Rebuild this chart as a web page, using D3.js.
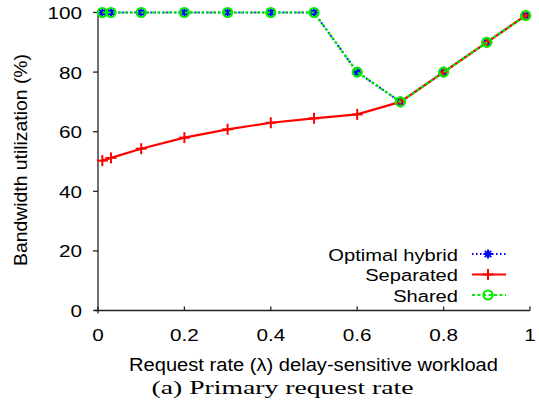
<!DOCTYPE html>
<html><head><meta charset="utf-8">
<script src="https://cdn.jsdelivr.net/npm/d3@7"></script>
<style>body{margin:0;background:#fff}svg{display:block}</style>
</head><body>
<svg id="c" width="539" height="414"></svg>
<script>
const xVals = [0.01, 0.03, 0.1, 0.2, 0.3, 0.4, 0.5, 0.6, 0.7, 0.8, 0.9, 0.99];
const optimalHybrid = [100, 100, 100, 100, 100, 100, 100, 80, 70, 80, 90, 99];
const separated = [50.3, 51.2, 54.3, 58, 60.8, 63, 64.5, 65.8, 70, 80, 90, 99];
const shared = [100, 100, 100, 100, 100, 100, 100, 80, 70, 80, 90, 99];
const xTicks = [0, 0.2, 0.4, 0.6, 0.8, 1];
const yTicks = [0, 20, 40, 60, 80, 100];

const svg = d3.select("#c");
const sans = "'Liberation Sans', Arial, sans-serif";
const SX = 1.22;
const x = d3.scaleLinear().domain([0, 1]).range([98, 530]);
const y = d3.scaleLinear().domain([0, 100]).range([310.5, 12.5]);

function txt(px, py, s, anchor, size, fam) {
  return svg.append("text").attr("transform", `translate(${px},${py}) scale(${SX},1)`)
    .attr("text-anchor", anchor).attr("font-family", fam || sans).attr("font-size", size).attr("fill", "#000").text(s);
}

// axes
const ax = svg.append("g").attr("stroke", "#222").attr("stroke-width", 1.3);
ax.append("line").attr("x1", x(0)).attr("x2", x(0)).attr("y1", y(100)).attr("y2", y(0) + 3);
ax.append("line").attr("x1", x(0) - 3).attr("x2", x(1)).attr("y1", y(0)).attr("y2", y(0));
yTicks.forEach(t => ax.append("line").attr("x1", x(0) - 5).attr("x2", x(0)).attr("y1", y(t)).attr("y2", y(t)));
xTicks.forEach(t => ax.append("line").attr("x1", x(t)).attr("x2", x(t)).attr("y1", y(0)).attr("y2", y(0) - 4));

yTicks.forEach(t => txt(82, y(t) + 6.5, t, "end", 17));
xTicks.forEach(t => txt(x(t), 341, t, "middle", 17));

svg.append("text").attr("x", 313.5).attr("y", 371).attr("text-anchor", "middle")
  .attr("font-family", sans).attr("font-size", 17.5)
  .attr("textLength", 369).attr("lengthAdjust", "spacingAndGlyphs")
  .text("Request rate (\u03bb) delay-sensitive workload");
svg.append("text").attr("transform", `translate(27,160) scale(1.15,1) rotate(-90)`).attr("text-anchor", "middle")
  .attr("font-family", sans).attr("font-size", 16.5)
  .attr("textLength", 212).attr("lengthAdjust", "spacingAndGlyphs").text("Bandwidth utilization (%)");
svg.append("text").attr("x", 282.5).attr("y", 394).attr("text-anchor", "middle")
  .attr("font-family", "'Liberation Serif', 'DejaVu Serif', serif").attr("font-size", 18)
  .attr("textLength", 262).attr("lengthAdjust", "spacingAndGlyphs").text("(a) Primary request rate");

const line = d3.line().x((d, i) => x(xVals[i])).y(d => y(d));

function star(g, cx, cy, c) {
  const r = 4.5;
  [[-r,0,r,0],[0,-r,0,r],[-r*.7,-r*.7,r*.7,r*.7],[-r*.7,r*.7,r*.7,-r*.7]].forEach(s =>
    g.append("line").attr("x1", cx+s[0]).attr("y1", cy+s[1]).attr("x2", cx+s[2]).attr("y2", cy+s[3])
     .attr("stroke", c).attr("stroke-width", 2));
}
function plus(g, cx, cy, c) {
  const r = 5.5;
  g.append("line").attr("x1", cx-r).attr("x2", cx+r).attr("y1", cy).attr("y2", cy).attr("stroke", c).attr("stroke-width", 2);
  g.append("line").attr("x1", cx).attr("x2", cx).attr("y1", cy-r).attr("y2", cy+r).attr("stroke", c).attr("stroke-width", 2);
}
function circ(g, cx, cy, c) {
  g.append("circle").attr("cx", cx).attr("cy", cy).attr("r", 4.5).attr("fill", "none").attr("stroke", c).attr("stroke-width", 2.2);
}

const series = [
  {name: "Optimal hybrid", data: optimalHybrid, color: "#0000ff", dash: "1.5,2.5", mark: star},
  {name: "Separated", data: separated, color: "#ff0000", dash: null, mark: plus},
  {name: "Shared", data: shared, color: "#00ee00", dash: "3,2.5", mark: circ}
];

series.forEach((s, k) => {
  const g = svg.append("g");
  g.append("path").attr("d", line(s.data)).attr("fill", "none").attr("stroke", s.color)
    .attr("stroke-width", 2.2).attr("stroke-dasharray", s.dash);
  s.data.forEach((v, i) => s.mark(g, x(xVals[i]), y(v), s.color));
  const ly = 254 + k * 20.5;
  txt(458, ly + 6.5, s.name, "end", 16.5);
  const lg = svg.append("g");
  lg.append("line").attr("x1", 472).attr("x2", 506).attr("y1", ly).attr("y2", ly)
    .attr("stroke", s.color).attr("stroke-width", 2.2).attr("stroke-dasharray", s.dash);
  s.mark(lg, 488, ly, s.color);
});
</script>
</body></html>
